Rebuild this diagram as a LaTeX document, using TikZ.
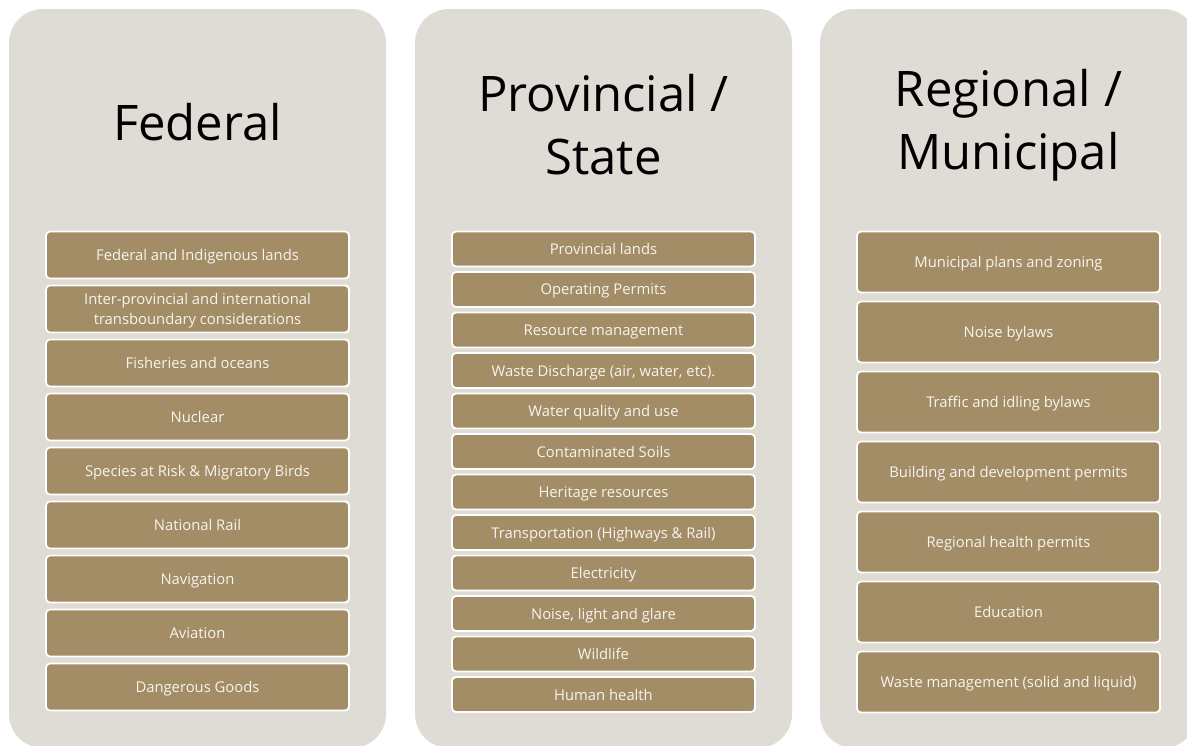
\documentclass[tikz,border=0pt]{standalone}
\usepackage{fontspec}
\setmainfont{Open Sans}
\definecolor{panelgrey}{HTML}{DFDBD5}
\definecolor{khaki}{HTML}{A38D67}
\definecolor{itemtext}{HTML}{F7F4EE}
\tikzset{
  panelbox/.style={fill=panelgrey, rounded corners=34pt},
  heading/.style={font=\fontsize{49}{63}\selectfont, align=center, text=black},
  itembox/.style={draw=white, line width=1.8pt, fill=khaki, rounded corners=4pt,
    text=itemtext, align=center, minimum width=303pt, inner sep=0pt,
    text depth=0pt, font=\fontsize{14.8}{19.5}\selectfont},
}
\begin{document}
\begin{tikzpicture}[x=1pt,y=-1pt]
\useasboundingbox (0,0) rectangle (1187,745);

% column panels
\fill[panelbox] (9,9) rectangle (386,748);
\fill[panelbox] (415,9) rectangle (792,748);
\fill[panelbox] (820,9) rectangle (1197,748);

% headings
\node[heading] (hfed) at (197.5,122) {Federal};
\node[heading] (hprov) at (603.5,125) {Provincial /\\State};
\node[heading] (hreg) at (1008.5,125) {Regional /\\Municipal};

% federal items
\foreach \t [count=\i from 0] in {
  {Federal and Indigenous lands},
  {Inter-provincial and international\\transboundary considerations},
  {Fisheries and oceans},
  {Nuclear},
  {Species at Risk \& Migratory Birds},
  {National Rail},
  {Navigation},
  {Aviation},
  {Dangerous Goods}}
  \node[itembox, minimum height=47pt] (f\i) at (197.5,255+54*\i) {\t};

% provincial items
\foreach \t [count=\i from 0] in {
  {Provincial lands},
  {Operating Permits},
  {Resource management},
  {Waste Discharge (air, water, etc).},
  {Water quality and use},
  {Contaminated Soils},
  {Heritage resources},
  {Transportation (Highways \& Rail)},
  {Electricity},
  {Noise, light and glare},
  {Wildlife},
  {Human health}}
  \node[itembox, minimum height=35pt] (p\i) at (603.5,249+40.5*\i) {\t};

% regional items
\foreach \t [count=\i from 0] in {
  {Municipal plans and zoning},
  {Noise bylaws},
  {Traffic and idling bylaws},
  {Building and development permits},
  {Regional health permits},
  {Education},
  {Waste management (solid and liquid)}}
  \node[itembox, minimum height=61pt] (r\i) at (1008.5,262+70*\i) {\t};
\end{tikzpicture}
\end{document}
